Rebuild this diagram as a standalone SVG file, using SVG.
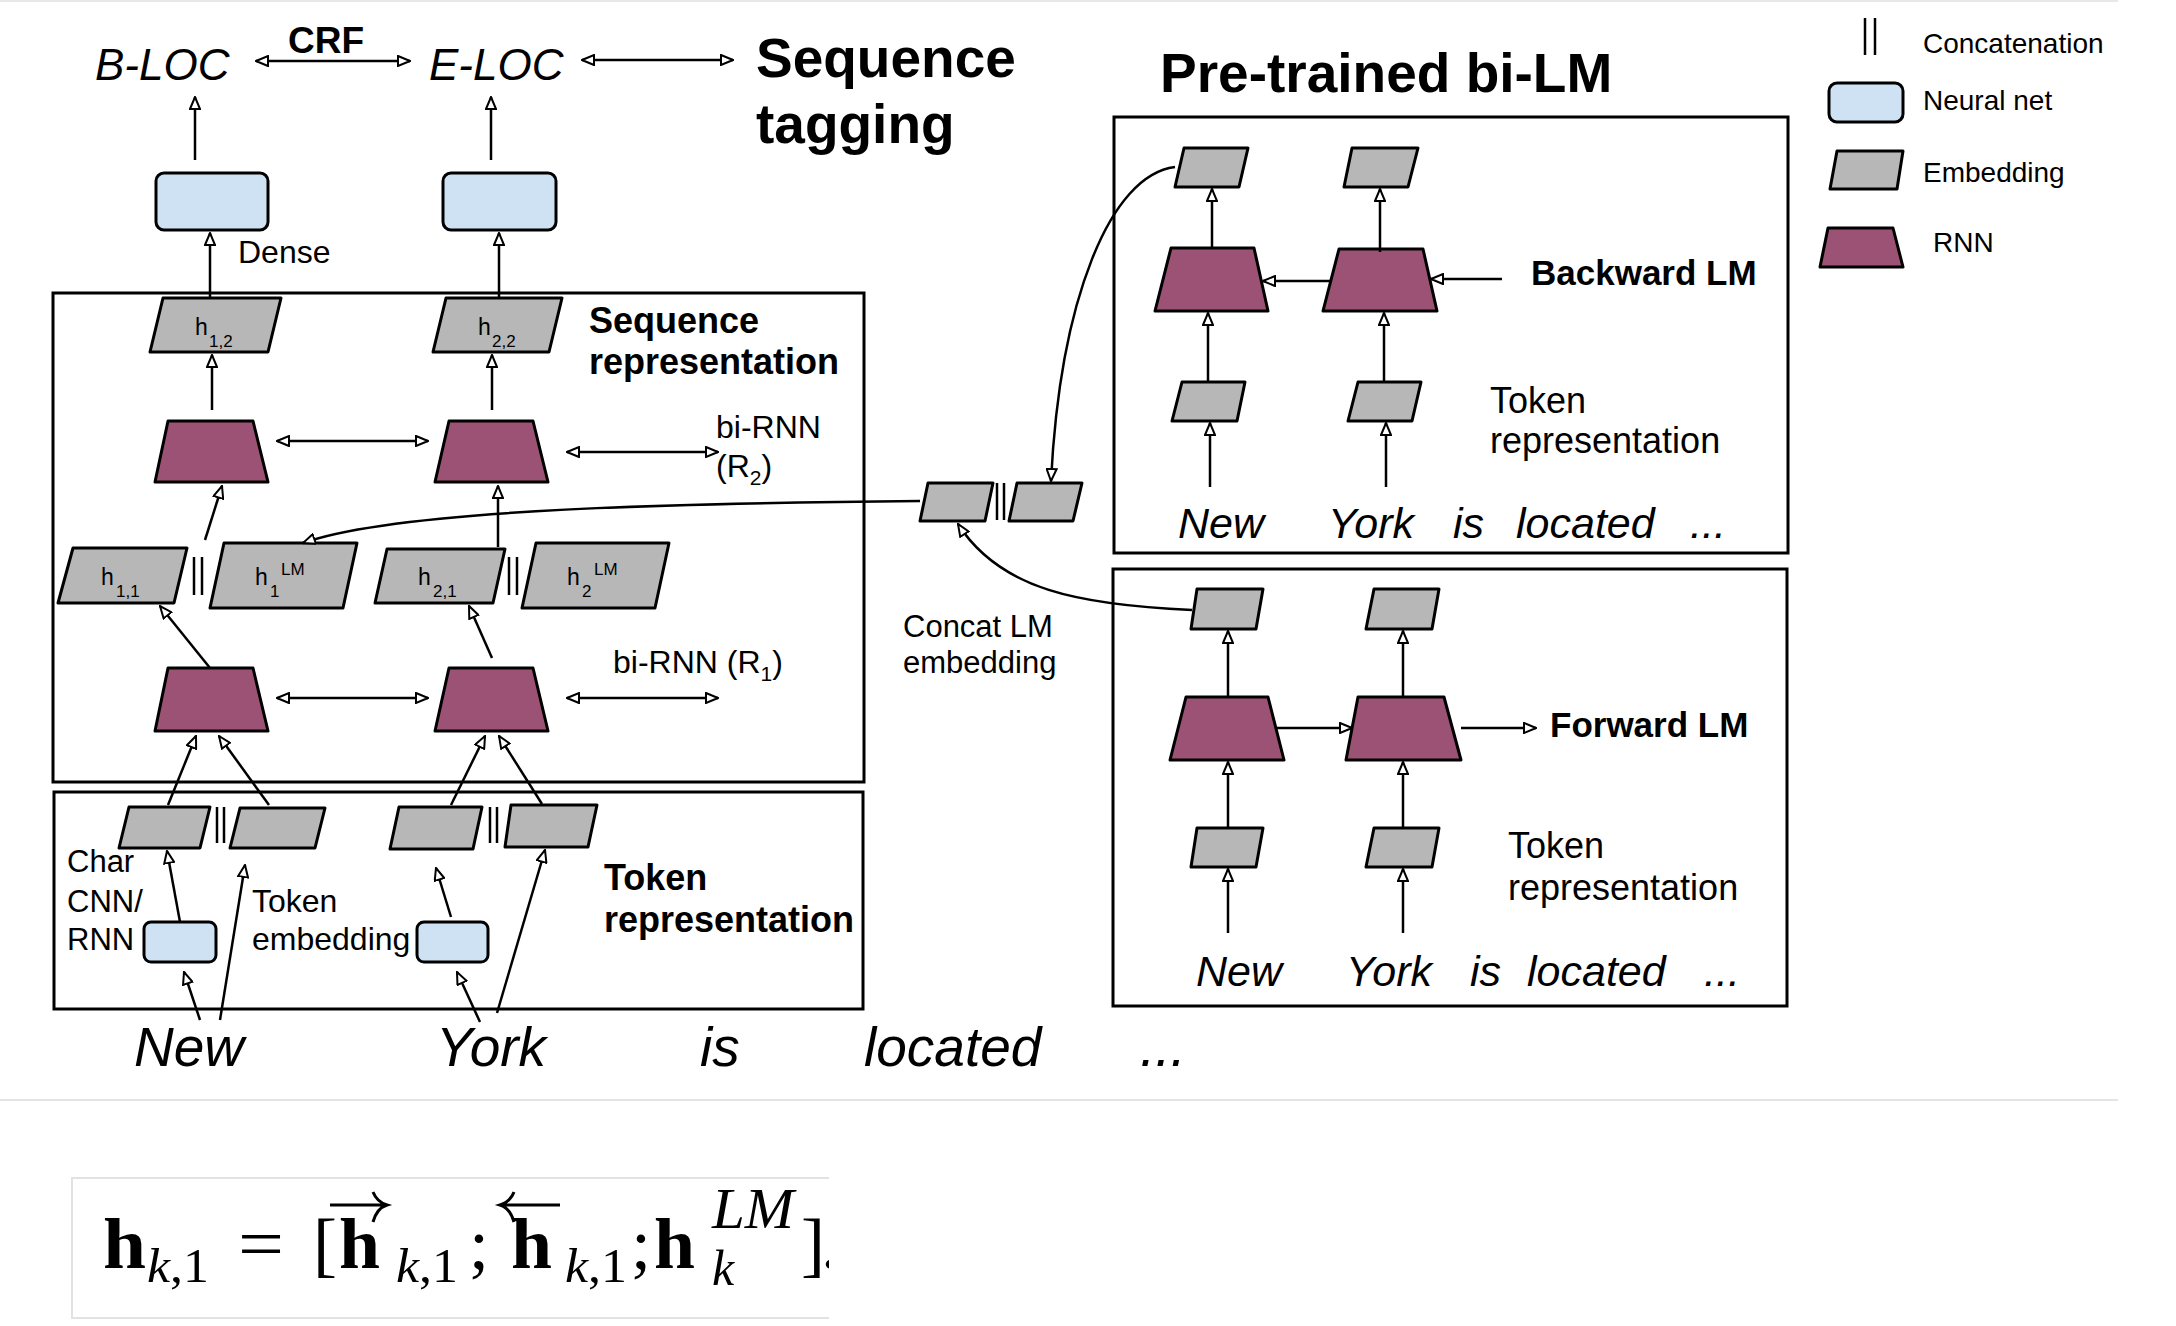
<svg xmlns="http://www.w3.org/2000/svg" width="2176" height="1326" viewBox="0 0 2176 1326">
<style>
text{font-family:"Liberation Sans",Arial,sans-serif;fill:#000}
.emb{fill:#b7b7b7;stroke:#000;stroke-width:3;stroke-linejoin:round}
.rnn{fill:#9b5275;stroke:#000;stroke-width:3;stroke-linejoin:round}
.nn{fill:#cfe2f3;stroke:#000;stroke-width:3}
.box{fill:none;stroke:#000;stroke-width:3}
.bar{stroke:#000;stroke-width:2.5}
.c{fill:none;stroke:#000;stroke-width:2.5;marker-end:url(#ah)}
.cc{fill:none;stroke:#000;stroke-width:2.5;marker-start:url(#ah);marker-end:url(#ah)}
.b{font-weight:bold}
.i{font-style:italic}
.m{font-family:"Liberation Serif","Times New Roman",serif}
</style>
<defs>
<marker id="ah" viewBox="0 0 14 12" refX="13" refY="6" markerWidth="14" markerHeight="12" markerUnits="userSpaceOnUse" orient="auto-start-reverse">
<path d="M1,1 L13,6 L1,11 Z" fill="#fff" stroke="#000" stroke-width="2"/>
</marker>
<clipPath id="fclip"><rect x="60" y="1170" width="769" height="156"/></clipPath>
</defs>
<rect width="2176" height="1326" fill="#fff"/>
<line x1="0" y1="1" x2="2118" y2="1" stroke="#e8e8e8" stroke-width="2"/>
<line x1="0" y1="1100" x2="2118" y2="1100" stroke="#e4e4e4" stroke-width="2"/>

<!-- Titles and labels -->
<g id="title-seq">
<text class="b" x="756" y="77" font-size="55">Sequence</text>
<text class="b" x="756" y="143" font-size="55">tagging</text>
</g>
<g id="title-bilm"><text class="b" x="1160" y="92" font-size="55">Pre-trained bi-LM</text></g>
<g id="bloc"><text class="i" x="95" y="80" font-size="44">B-LOC</text></g>
<g id="eloc"><text class="i" x="429" y="80" font-size="44">E-LOC</text></g>
<g id="crf-label"><text class="b" x="288" y="53" font-size="37">CRF</text></g>

<!-- Legend -->
<g id="legend">
<line class="bar" x1="1865" y1="18" x2="1865" y2="55"/>
<line class="bar" x1="1875" y1="18" x2="1875" y2="55"/>
<text x="1923" y="53" font-size="28">Concatenation</text>
<rect class="nn" x="1829" y="83" width="74" height="39" rx="8"/>
<text x="1923" y="110" font-size="28">Neural net</text>
<polygon class="emb" points="1837,151 1903,151 1897,189 1830,189"/>
<text x="1923" y="182" font-size="28">Embedding</text>
<polygon class="rnn" points="1828,228 1893,228 1903,267 1820,267"/>
<text x="1933" y="252" font-size="28">RNN</text>
</g>

<!-- Dense -->
<g id="dense1"><rect class="nn" x="156" y="173" width="112" height="57" rx="8"/></g>
<g id="dense2"><rect class="nn" x="443" y="173" width="113" height="57" rx="8"/></g>
<g id="dense-label"><text x="238" y="263" font-size="32">Dense</text></g>

<!-- Sequence representation box -->
<g id="seq-box">
<rect class="box" x="53" y="293" width="811" height="489"/>
<text class="b" x="589" y="333" font-size="36">Sequence</text>
<text class="b" x="589" y="374" font-size="36">representation</text>
</g>
<g id="h12">
<polygon class="emb" points="163,298 281,298 268,352 150,352"/>
<text x="195" y="335" font-size="23">h</text><text x="209" y="347" font-size="17">1,2</text>
</g>
<g id="h22">
<polygon class="emb" points="446,298 562,298 549,352 433,352"/>
<text x="478" y="335" font-size="23">h</text><text x="492" y="347" font-size="17">2,2</text>
</g>
<g id="r2a"><polygon class="rnn" points="168,421 253,421 268,482 155,482"/></g>
<g id="r2b"><polygon class="rnn" points="449,421 533,421 548,482 435,482"/></g>
<g id="r2-label">
<text x="716" y="438" font-size="32">bi-RNN</text>
<text x="716" y="477" font-size="32">(R<tspan font-size="21" dy="8">2</tspan><tspan dy="-8">)</tspan></text>
</g>
<g id="h11">
<polygon class="emb" points="73,548 187,548 174,603 58,603"/>
<text x="101" y="585" font-size="23">h</text><text x="116" y="597" font-size="17">1,1</text>
</g>
<g id="cat1"><line class="bar" x1="194" y1="557" x2="194" y2="595"/><line class="bar" x1="202" y1="557" x2="202" y2="595"/></g>
<g id="h1lm">
<polygon class="emb" points="224,543 357,543 343,608 210,608"/>
<text x="255" y="585" font-size="23">h</text><text x="270" y="597" font-size="17">1</text><text x="281" y="575" font-size="17">LM</text>
</g>
<g id="h21">
<polygon class="emb" points="387,549 505,549 493,603 375,603"/>
<text x="418" y="585" font-size="23">h</text><text x="433" y="597" font-size="17">2,1</text>
</g>
<g id="cat2"><line class="bar" x1="509" y1="557" x2="509" y2="595"/><line class="bar" x1="517" y1="557" x2="517" y2="595"/></g>
<g id="h2lm">
<polygon class="emb" points="536,543 669,543 655,608 522,608"/>
<text x="567" y="585" font-size="23">h</text><text x="582" y="597" font-size="17">2</text><text x="594" y="575" font-size="17">LM</text>
</g>
<g id="r1a"><polygon class="rnn" points="168,668 253,668 268,731 155,731"/></g>
<g id="r1b"><polygon class="rnn" points="449,668 533,668 548,731 435,731"/></g>
<g id="r1-label"><text x="613" y="673" font-size="32">bi-RNN (R<tspan font-size="21" dy="8">1</tspan><tspan dy="-8">)</tspan></text></g>

<!-- Token representation box -->
<g id="tok-box">
<rect class="box" x="54" y="792" width="809" height="217"/>
<text class="b" x="604" y="890" font-size="36">Token</text>
<text class="b" x="604" y="932" font-size="36">representation</text>
</g>
<g id="e1"><polygon class="emb" points="129,807 210,807 200,848 119,848"/></g>
<g id="cat3"><line class="bar" x1="217" y1="807" x2="217" y2="843"/><line class="bar" x1="224" y1="807" x2="224" y2="843"/></g>
<g id="e2"><polygon class="emb" points="240,808 325,808 315,848 230,848"/></g>
<g id="e3"><polygon class="emb" points="399,807 482,807 473,849 390,849"/></g>
<g id="cat4"><line class="bar" x1="490" y1="807" x2="490" y2="843"/><line class="bar" x1="497" y1="807" x2="497" y2="843"/></g>
<g id="e4"><polygon class="emb" points="511,805 597,805 588,847 505,847"/></g>
<g id="cnn1"><rect class="nn" x="144" y="922" width="72" height="40" rx="7"/></g>
<g id="cnn2"><rect class="nn" x="417" y="922" width="71" height="40" rx="7"/></g>
<g id="char-label">
<text x="67" y="872" font-size="31">Char</text>
<text x="67" y="912" font-size="31">CNN/</text>
<text x="67" y="950" font-size="31">RNN</text>
</g>
<g id="tokemb-label">
<text x="252" y="912" font-size="32">Token</text>
<text x="252" y="950" font-size="32">embedding</text>
</g>
<g id="words-main">
<text class="i" x="134" y="1066" font-size="55">New</text>
<text class="i" x="436" y="1066" font-size="55">York</text>
<text class="i" x="700" y="1066" font-size="55">is</text>
<text class="i" x="864" y="1066" font-size="55">located</text>
<text class="i" x="1140" y="1066" font-size="55">...</text>
</g>

<!-- Concat LM embedding -->
<g id="cl1"><polygon class="emb" points="928,483 993,483 985,521 920,521"/></g>
<g id="cat5"><line class="bar" x1="997" y1="483" x2="997" y2="520"/><line class="bar" x1="1004" y1="483" x2="1004" y2="520"/></g>
<g id="cl2"><polygon class="emb" points="1017,483 1082,483 1073,521 1009,521"/></g>
<g id="concat-label">
<text x="903" y="637" font-size="31">Concat LM</text>
<text x="903" y="673" font-size="31">embedding</text>
</g>

<!-- Backward LM -->
<g id="bwd-box">
<rect class="box" x="1114" y="117" width="674" height="436"/>
<text class="b" x="1531" y="285" font-size="35">Backward LM</text>
<text x="1490" y="413" font-size="36">Token</text>
<text x="1490" y="453" font-size="36">representation</text>
</g>
<g id="bt1"><polygon class="emb" points="1184,148 1248,148 1239,187 1175,187"/></g>
<g id="bt2"><polygon class="emb" points="1352,148 1418,148 1408,187 1344,187"/></g>
<g id="br1"><polygon class="rnn" points="1171,248 1254,248 1268,311 1155,311"/></g>
<g id="br2"><polygon class="rnn" points="1339,249 1423,249 1437,311 1323,311"/></g>
<g id="be1"><polygon class="emb" points="1182,382 1245,382 1237,421 1172,421"/></g>
<g id="be2"><polygon class="emb" points="1358,382 1421,382 1412,421 1348,421"/></g>
<g id="bwd-words">
<text class="i" x="1178" y="538" font-size="43">New</text>
<text class="i" x="1328" y="538" font-size="43">York</text>
<text class="i" x="1453" y="538" font-size="43">is</text>
<text class="i" x="1516" y="538" font-size="43">located</text>
<text class="i" x="1690" y="538" font-size="43">...</text>
</g>

<!-- Forward LM -->
<g id="fwd-box">
<rect class="box" x="1113" y="569" width="674" height="437"/>
<text class="b" x="1550" y="737" font-size="35">Forward LM</text>
<text x="1508" y="858" font-size="36">Token</text>
<text x="1508" y="900" font-size="36">representation</text>
</g>
<g id="ft1"><polygon class="emb" points="1197,589 1263,589 1256,629 1191,629"/></g>
<g id="ft2"><polygon class="emb" points="1374,589 1439,589 1432,629 1366,629"/></g>
<g id="fr1"><polygon class="rnn" points="1186,697 1268,697 1284,760 1170,760"/></g>
<g id="fr2"><polygon class="rnn" points="1358,697 1444,697 1461,760 1346,760"/></g>
<g id="fe1"><polygon class="emb" points="1197,828 1263,828 1256,867 1191,867"/></g>
<g id="fe2"><polygon class="emb" points="1374,828 1439,828 1432,867 1366,867"/></g>
<g id="fwd-words">
<text class="i" x="1196" y="986" font-size="43">New</text>
<text class="i" x="1346" y="986" font-size="43">York</text>
<text class="i" x="1470" y="986" font-size="43">is</text>
<text class="i" x="1527" y="986" font-size="43">located</text>
<text class="i" x="1704" y="986" font-size="43">...</text>
</g>

<!-- Connectors -->
<g id="connectors">
<line class="cc" x1="256" y1="61" x2="410" y2="61"/>
<line class="cc" x1="582" y1="60" x2="733" y2="60"/>
<line class="c" x1="195" y1="160" x2="195" y2="97"/>
<line class="c" x1="491" y1="160" x2="491" y2="97"/>
<line class="c" x1="210" y1="298" x2="210" y2="233"/>
<line class="c" x1="499" y1="298" x2="499" y2="233"/>
<line class="c" x1="212" y1="410" x2="212" y2="355"/>
<line class="c" x1="492" y1="410" x2="492" y2="355"/>
<line class="cc" x1="277" y1="441" x2="428" y2="441"/>
<line class="cc" x1="567" y1="452" x2="718" y2="452"/>
<line class="c" x1="205" y1="540" x2="222" y2="486"/>
<line class="c" x1="498" y1="547" x2="498" y2="486"/>
<path class="c" d="M920,501 C700,503 400,508 303,543"/>
<line class="c" x1="210" y1="668" x2="160" y2="606"/>
<line class="c" x1="492" y1="658" x2="469" y2="606"/>
<line class="cc" x1="277" y1="698" x2="428" y2="698"/>
<line class="cc" x1="567" y1="698" x2="718" y2="698"/>
<line class="c" x1="168" y1="805" x2="196" y2="736"/>
<line class="c" x1="269" y1="805" x2="219" y2="736"/>
<line class="c" x1="451" y1="805" x2="485" y2="736"/>
<line class="c" x1="542" y1="804" x2="499" y2="736"/>
<line class="c" x1="180" y1="922" x2="167" y2="851"/>
<line class="c" x1="200" y1="1020" x2="184" y2="972"/>
<line class="c" x1="220" y1="1020" x2="245" y2="865"/>
<line class="c" x1="480" y1="1022" x2="457" y2="972"/>
<line class="c" x1="451" y1="917" x2="436" y2="868"/>
<line class="c" x1="497" y1="1013" x2="545" y2="850"/>
<path class="c" d="M1175,167 C1110,175 1060,300 1051,481"/>
<path class="c" d="M1192,610 C1080,605 1000,590 958,524"/>
<line class="c" x1="1331" y1="281" x2="1263" y2="281"/>
<line class="c" x1="1502" y1="279" x2="1431" y2="279"/>
<line class="c" x1="1212" y1="248" x2="1212" y2="189"/>
<line class="c" x1="1380" y1="252" x2="1380" y2="189"/>
<line class="c" x1="1208" y1="383" x2="1208" y2="313"/>
<line class="c" x1="1384" y1="383" x2="1384" y2="313"/>
<line class="c" x1="1210" y1="487" x2="1210" y2="423"/>
<line class="c" x1="1386" y1="487" x2="1386" y2="423"/>
<line class="c" x1="1277" y1="728" x2="1352" y2="728"/>
<line class="c" x1="1461" y1="728" x2="1536" y2="728"/>
<line class="c" x1="1228" y1="697" x2="1228" y2="631"/>
<line class="c" x1="1403" y1="697" x2="1403" y2="631"/>
<line class="c" x1="1228" y1="828" x2="1228" y2="762"/>
<line class="c" x1="1403" y1="828" x2="1403" y2="762"/>
<line class="c" x1="1228" y1="933" x2="1228" y2="869"/>
<line class="c" x1="1403" y1="933" x2="1403" y2="869"/>
</g>

<!-- Formula -->
<g id="formula">
<path d="M829,1178 H72 V1318 H829" fill="none" stroke="#e2e2e2" stroke-width="2"/>
<g clip-path="url(#fclip)">
<text class="m b" x="103" y="1268" font-size="72" textLength="43" lengthAdjust="spacingAndGlyphs">h</text>
<text class="m" x="147" y="1282" font-size="48" textLength="62" lengthAdjust="spacingAndGlyphs"><tspan font-style="italic">k</tspan>,1</text>
<text class="m" x="238" y="1268" font-size="72" textLength="46" lengthAdjust="spacingAndGlyphs">=</text>
<text class="m" x="313" y="1268" font-size="72">[</text>
<text class="m b" x="339" y="1268" font-size="72" textLength="41" lengthAdjust="spacingAndGlyphs">h</text>
<path d="M330,1205 H385 M373,1192 Q377,1202 387,1205 Q377,1208 373,1222" fill="none" stroke="#000" stroke-width="3"/>
<text class="m" x="396" y="1282" font-size="48" textLength="62" lengthAdjust="spacingAndGlyphs"><tspan font-style="italic">k</tspan>,1</text>
<text class="m" x="469" y="1268" font-size="72">;</text>
<text class="m b" x="511" y="1268" font-size="72" textLength="41" lengthAdjust="spacingAndGlyphs">h</text>
<path d="M502,1205 H560 M514,1192 Q510,1202 500,1205 Q510,1208 514,1222" fill="none" stroke="#000" stroke-width="3"/>
<text class="m" x="565" y="1282" font-size="48" textLength="62" lengthAdjust="spacingAndGlyphs"><tspan font-style="italic">k</tspan>,1</text>
<text class="m" x="631" y="1268" font-size="72">;</text>
<text class="m b" x="654" y="1268" font-size="72" textLength="41" lengthAdjust="spacingAndGlyphs">h</text>
<text class="m i" x="712" y="1228" font-size="56" textLength="82" lengthAdjust="spacingAndGlyphs">LM</text>
<text class="m i" x="712" y="1285" font-size="50">k</text>
<text class="m" x="801" y="1268" font-size="72">]</text>
<text class="m" x="821" y="1268" font-size="72">.</text>
</g>
</g>
</svg>
